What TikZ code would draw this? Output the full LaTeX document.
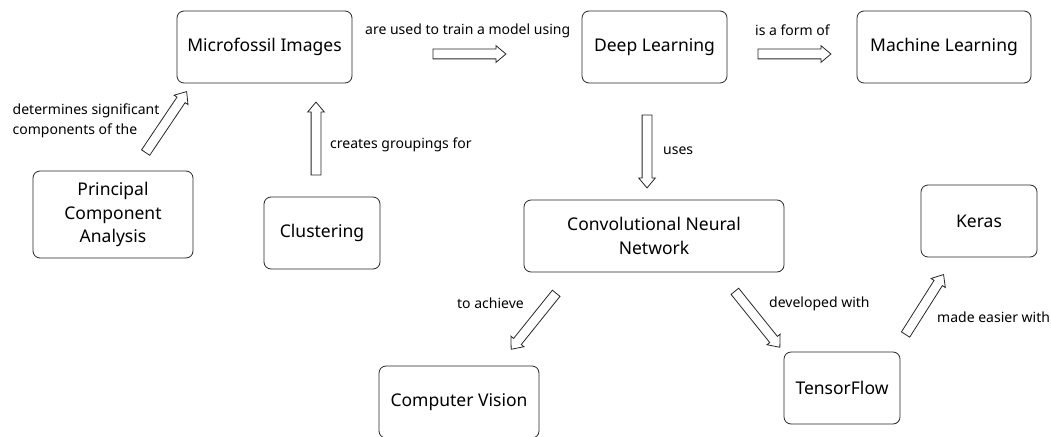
\documentclass[tikz,border=0pt]{standalone}
\usepackage{fontspec}
\setmainfont{Noto Sans}
\usetikzlibrary{calc,shapes.arrows}

\begin{document}
\begin{tikzpicture}[x=1pt,y=-1pt,
    box/.style={draw=black!85, line width=0.8pt, rounded corners=7pt, minimum height=72pt,
      align=center, font=\fontsize{17.5}{23.5}\selectfont},
    lbl/.style={font=\fontsize{14}{19.5}\selectfont, inner sep=0pt},
    hollow/.style={draw=black!85, line width=0.8pt, single arrow, single arrow head extend=3.5pt,
      single arrow tip angle=80, single arrow head indent=0pt, inner sep=4.5pt},
    blockto/.style={to path={let \p1=($(\tikztotarget)-(\tikztostart)$),
      \n1={veclen(\x1,\y1)}, \n2={atan2(\y1,\x1)} in
      node[hollow, minimum height=\n1, rotate=\n2] at ($(\tikztostart)!.5!(\tikztotarget)$) {}}}
  ]
\useasboundingbox (0,0) rectangle (1051,436);

\node[box, minimum width=175pt] (micro) at (264.5,47) {Microfossil Images};
\node[box, minimum width=145pt] (deep) at (654.5,47) {Deep Learning};
\node[box, minimum width=174pt] (ml) at (944,47) {Machine Learning};
\node[box, minimum width=160pt, minimum height=87pt] (pca) at (113,214.5) {Principal\\Component\\Analysis};
\node[box, minimum width=116pt] (clust) at (322,233) {Clustering};
\node[box, minimum width=260pt] (cnn) at (654,236) {Convolutional Neural\\Network};
\node[box, minimum width=116pt] (keras) at (979,221) {Keras};
\node[box, minimum width=160pt] (cv) at (459,402) {Computer Vision};
\node[box, minimum width=116pt] (tf) at (842,388) {TensorFlow};

\coordinate (pcatail) at (144,155);
\coordinate (pcatip) at (185,94);
\coordinate (clusttail) at (316,178);
\coordinate (clusttip) at (316,105);
\coordinate (microtail) at (430,54);
\coordinate (microtip) at (503,54);
\coordinate (deeptail) at (755,54);
\coordinate (deeptip) at (828,54);
\coordinate (usestail) at (647,112);
\coordinate (usestip) at (647,185);
\coordinate (cvtail) at (558,291);
\coordinate (cvtip) at (513,347);
\coordinate (tftail) at (733,289);
\coordinate (tftip) at (778,345);
\coordinate (kerastail) at (904,337);
\coordinate (kerastip) at (942,277);

\path (pcatail) to[blockto] (pcatip);
\path (clusttail) to[blockto] (clusttip);
\path (microtail) to[blockto] (microtip);
\path (deeptail) to[blockto] (deeptip);
\path (usestail) to[blockto] (usestip);
\path (cvtail) to[blockto] (cvtip);
\path (tftail) to[blockto] (tftip);
\path (kerastail) to[blockto] (kerastip);

\node[lbl, anchor=north west, align=left] (ldet) at (12.5,104) {determines significant\\components of the};
\node[lbl, anchor=base west] (lcreates) at (330,148) {creates groupings for};
\node[lbl, anchor=base west] (ltrain) at (365,35) {are used to train a model using};
\node[lbl, anchor=base west] (lform) at (755,36) {is a form of};
\node[lbl, anchor=base west] (luses) at (663,154) {uses};
\node[lbl, anchor=base east] (lachieve) at (524,308) {to achieve};
\node[lbl, anchor=base west] (ldev) at (769,307) {developed with};
\node[lbl, anchor=base west] (leasier) at (937,322) {made easier with};
\end{tikzpicture}
\end{document}
